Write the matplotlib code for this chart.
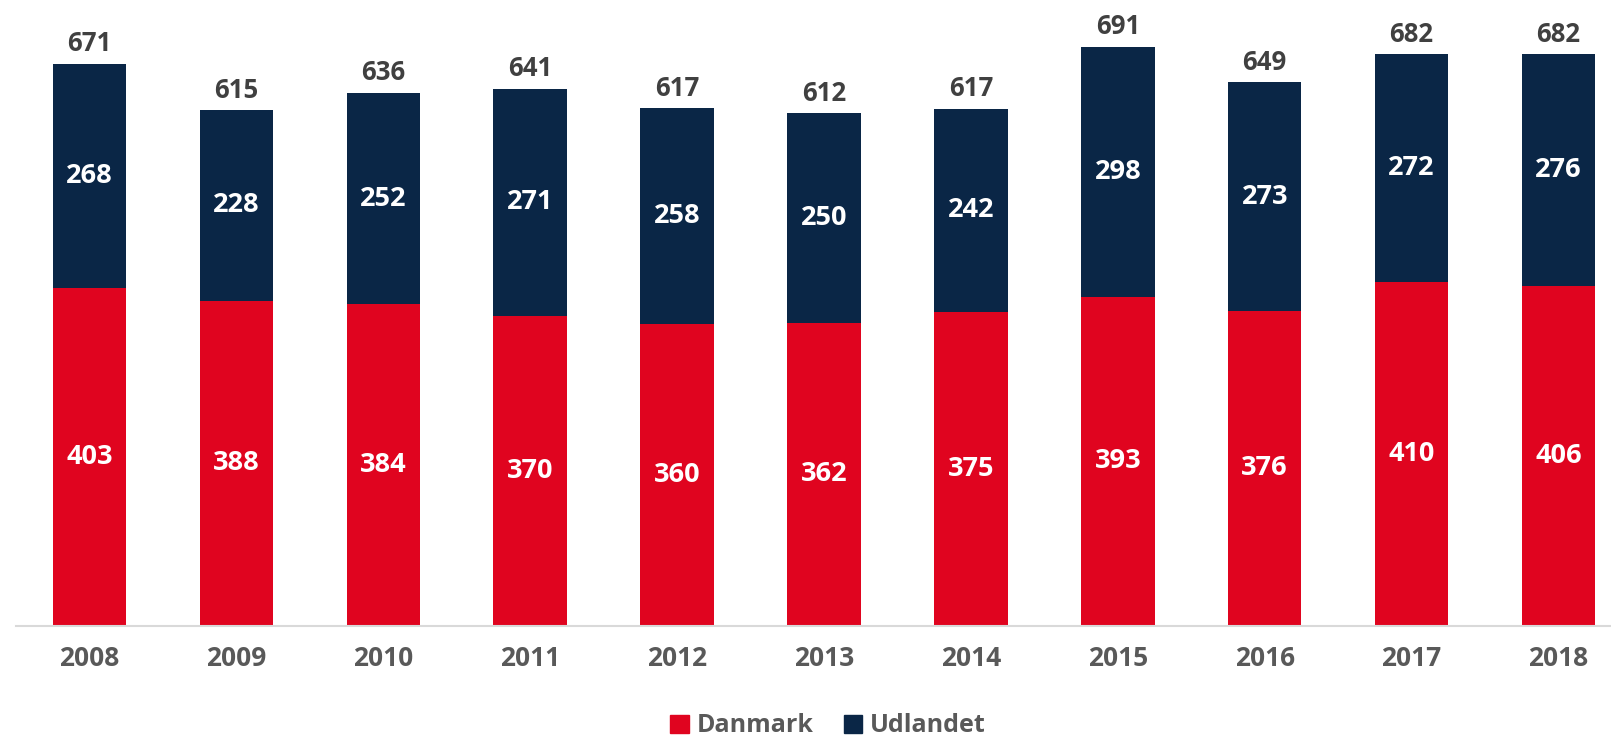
# -- Import Libraries --
import numpy as np
import matplotlib
matplotlib.use("Agg")
import matplotlib.pyplot as plt
from matplotlib.patches import Patch

# -- Data --
years = ["2008", "2009", "2010", "2011", "2012", "2013", "2014", "2015", "2016", "2017", "2018"]
danmark = [403, 388, 384, 370, 360, 362, 375, 393, 376, 410, 406]
udlandet = [268, 228, 252, 271, 258, 250, 242, 298, 273, 272, 276]
totals = [671, 615, 636, 641, 617, 612, 617, 691, 649, 682, 682]

red = "#E0041F"
navy = "#0A2646"

plt.rcParams['font.family'] = ['Open Sans', 'DejaVu Sans']

fig = plt.figure(figsize=(16.11, 7.37), dpi=100)
ax = fig.add_axes([16 / 1611, 111 / 737, 1616 / 1611, 626 / 737])  # axes runs past the right edge like the original

x = np.arange(len(years))
ax.bar(x, danmark, width=0.5, color=red, label="Danmark")
ax.bar(x, udlandet, width=0.5, bottom=danmark, color=navy, label="Udlandet")

ax.set_xlim(-0.5, len(years) - 0.5)
ax.set_ylim(0, 747)

# value labels inside the segments + totals on top
for i in range(len(years)):
    ax.text(x[i], danmark[i] / 2, str(danmark[i]), ha="center", va="center",
            color="white", fontsize=19.5, fontweight="bold")
    ax.text(x[i], danmark[i] + udlandet[i] / 2, str(udlandet[i]), ha="center", va="center",
            color="white", fontsize=19.5, fontweight="bold")
    ax.text(x[i], totals[i] + 24, str(totals[i]), ha="center", va="center",
            color="#404040", fontsize=18.5, fontweight="bold")

# -- axes styling --
for s in ["top", "right", "left"]:
    ax.spines[s].set_visible(False)
ax.spines["bottom"].set_color("#D9D9D9")
ax.spines["bottom"].set_linewidth(1.5)
ax.set_yticks([])
ax.set_xticks(x)
ax.set_xticklabels(years, fontsize=19, fontweight="bold", color="#595959")
ax.tick_params(axis="x", length=0, pad=14)

handles = [Patch(color=red, label="Danmark"), Patch(color=navy, label="Udlandet")]
fig.legend(handles=handles, loc="center", bbox_to_anchor=(828 / 1611, 1 - 726 / 737), ncol=2,
           frameon=False, handlelength=0.75, handleheight=0.75, handletextpad=0.3, columnspacing=1.2,
           prop={"size": 18, "weight": "bold"}, labelcolor="#595959")

fig.savefig("out.png", dpi=100)
